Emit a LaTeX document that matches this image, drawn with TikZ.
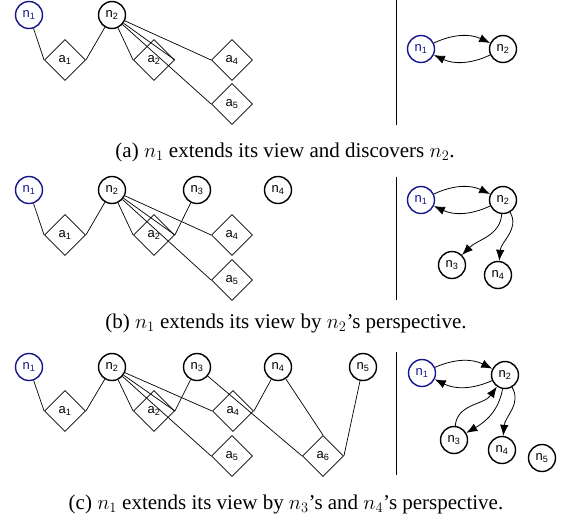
\documentclass[tikz,border=0pt]{standalone}
\usepackage{fontspec}
\setmainfont{Liberation Serif}
\setsansfont{Liberation Sans}
\usetikzlibrary{shapes.geometric,arrows.meta}
\definecolor{nblue}{RGB}{20,20,140}
\begin{document}
\begin{tikzpicture}[x=1pt,y=1pt,
  agent/.style={circle,draw,line width=1.4pt,minimum size=27pt,inner sep=0pt,font=\sffamily\fontsize{13}{13}\selectfont},
  me/.style={agent,draw=nblue,text=nblue},
  act/.style={diamond,draw,line width=0.8pt,minimum width=41pt,minimum height=41pt,inner sep=0pt,font=\sffamily\fontsize{13}{13}\selectfont},
  link/.style={line width=0.7pt},
  arr/.style={line width=0.8pt,-{Latex[length=11pt,width=8.5pt]}},
  sepline/.style={line width=0.9pt},
  captext/.style={font=\fontsize{21}{21}\selectfont}]
\useasboundingbox (0,0) rectangle (569,-520);

% ---------- panel (a) left ----------
\node[me]    (a-n1) at (29,-15) {n\textsubscript{1}};
\node[agent] (a-n2) at (112,-15) {n\textsubscript{2}};
\node[act]   (a-a1) at (65,-60) {a\textsubscript{1}};
\node[act]   (a-a2) at (154,-60) {a\textsubscript{2}};
\node[act]   (a-a4) at (232,-60) {a\textsubscript{4}};
\node[act]   (a-a5) at (232,-104) {a\textsubscript{5}};
\draw[link] (a-n1) -- (a-a1.west);
\draw[link] (a-a1.east) -- (a-n2);
\draw[link] (a-n2) -- (a-a2.west);
\draw[link] (a-n2) -- (a-a2.east);
\draw[link] (a-n2) -- (a-a5.west);
\draw[link] (a-n2) -- (a-a4.west);
% right
\coordinate (a-s1) at (396,0);
\coordinate (a-s2) at (396,-125);
\draw[sepline] (a-s1) -- (a-s2);
\node[me]    (ar-n1) at (421,-49) {n\textsubscript{1}};
\node[agent] (ar-n2) at (503,-49) {n\textsubscript{2}};
\draw[arr] (ar-n1) to[bend left=25] (ar-n2);
\draw[arr] (ar-n2) to[bend left=25] (ar-n1);
\node[captext] (a-cap) at (285,-152) {(a) $n_1$ extends its view and discovers $n_2$.};

% ---------- panel (b) left ----------
\node[me]    (b-n1) at (29,-190) {n\textsubscript{1}};
\node[agent] (b-n2) at (112,-190) {n\textsubscript{2}};
\node[agent] (b-n3) at (197,-190) {n\textsubscript{3}};
\node[agent] (b-n4) at (278,-190) {n\textsubscript{4}};
\node[act]   (b-a1) at (65,-235) {a\textsubscript{1}};
\node[act]   (b-a2) at (154,-235) {a\textsubscript{2}};
\node[act]   (b-a4) at (232,-235) {a\textsubscript{4}};
\node[act]   (b-a5) at (232,-280) {a\textsubscript{5}};
\draw[link] (b-n1) -- (b-a1.west);
\draw[link] (b-a1.east) -- (b-n2);
\draw[link] (b-n2) -- (b-a2.west);
\draw[link] (b-n2) -- (b-a2.east);
\draw[link] (b-n2) -- (b-a5.west);
\draw[link] (b-n2) -- (b-a4.west);
\draw[link] (b-n3) -- (b-a2.east);
% right
\coordinate (b-s1) at (396,-177);
\coordinate (b-s2) at (396,-300);
\draw[sepline] (b-s1) -- (b-s2);
\node[me]    (br-n1) at (421,-200) {n\textsubscript{1}};
\node[agent] (br-n2) at (503,-200) {n\textsubscript{2}};
\node[agent] (br-n3) at (452,-265) {n\textsubscript{3}};
\node[agent] (br-n4) at (498,-275) {n\textsubscript{4}};
\draw[arr] (br-n1) to[bend left=25] (br-n2);
\draw[arr] (br-n2) to[bend left=25] (br-n1);
\draw[arr] (br-n2) to[out=-95,in=45] (br-n3);
\draw[arr] (br-n2) to[out=-60,in=85] (br-n4);
\node[captext] (b-cap) at (286,-323) {(b) $n_1$ extends its view by $n_2$'s perspective.};

% ---------- panel (c) left ----------
\node[me]    (c-n1) at (29,-367) {n\textsubscript{1}};
\node[agent] (c-n2) at (112,-367) {n\textsubscript{2}};
\node[agent] (c-n3) at (197,-367) {n\textsubscript{3}};
\node[agent] (c-n4) at (278,-367) {n\textsubscript{4}};
\node[agent] (c-n5) at (363,-367) {n\textsubscript{5}};
\node[act]   (c-a1) at (65,-411) {a\textsubscript{1}};
\node[act]   (c-a2) at (154,-411) {a\textsubscript{2}};
\node[act]   (c-a4) at (233,-411) {a\textsubscript{4}};
\node[act]   (c-a5) at (232,-456) {a\textsubscript{5}};
\node[act]   (c-a6) at (323,-456) {a\textsubscript{6}};
\draw[link] (c-n1) -- (c-a1.west);
\draw[link] (c-a1.east) -- (c-n2);
\draw[link] (c-n2) -- (c-a2.west);
\draw[link] (c-n2) -- (c-a2.east);
\draw[link] (c-n2) -- (c-a5.west);
\draw[link] (c-n2) -- (c-a4.west);
\draw[link] (c-n3) -- (c-a2.east);
\draw[link] (c-n3) -- (c-a6.west);
\draw[link] (c-a4.east) -- (c-n4);
\draw[link] (c-n4) -- (c-a6.north);
\draw[link] (c-n5) -- (c-a6.east);
% right
\coordinate (c-s1) at (396,-352);
\coordinate (c-s2) at (396,-475);
\draw[sepline] (c-s1) -- (c-s2);
\node[me]    (cr-n1) at (422,-373) {n\textsubscript{1}};
\node[agent] (cr-n2) at (505,-375) {n\textsubscript{2}};
\node[agent] (cr-n3) at (454,-440) {n\textsubscript{3}};
\node[agent] (cr-n4) at (502,-450) {n\textsubscript{4}};
\node[agent] (cr-n5) at (542,-458) {n\textsubscript{5}};
\draw[arr] (cr-n1) to[bend left=25] (cr-n2);
\draw[arr] (cr-n2) to[bend left=25] (cr-n1);
\draw[arr] (cr-n3) to[out=85,in=-125] (cr-n2);
\draw[arr] (cr-n2) to[out=-100,in=30] (cr-n3);
\draw[arr] (cr-n2) to[out=-60,in=85] (cr-n4);
\node[captext] (c-cap) at (286,-504) {(c) $n_1$ extends its view by $n_3$'s and $n_4$'s perspective.};
\end{tikzpicture}
\end{document}
